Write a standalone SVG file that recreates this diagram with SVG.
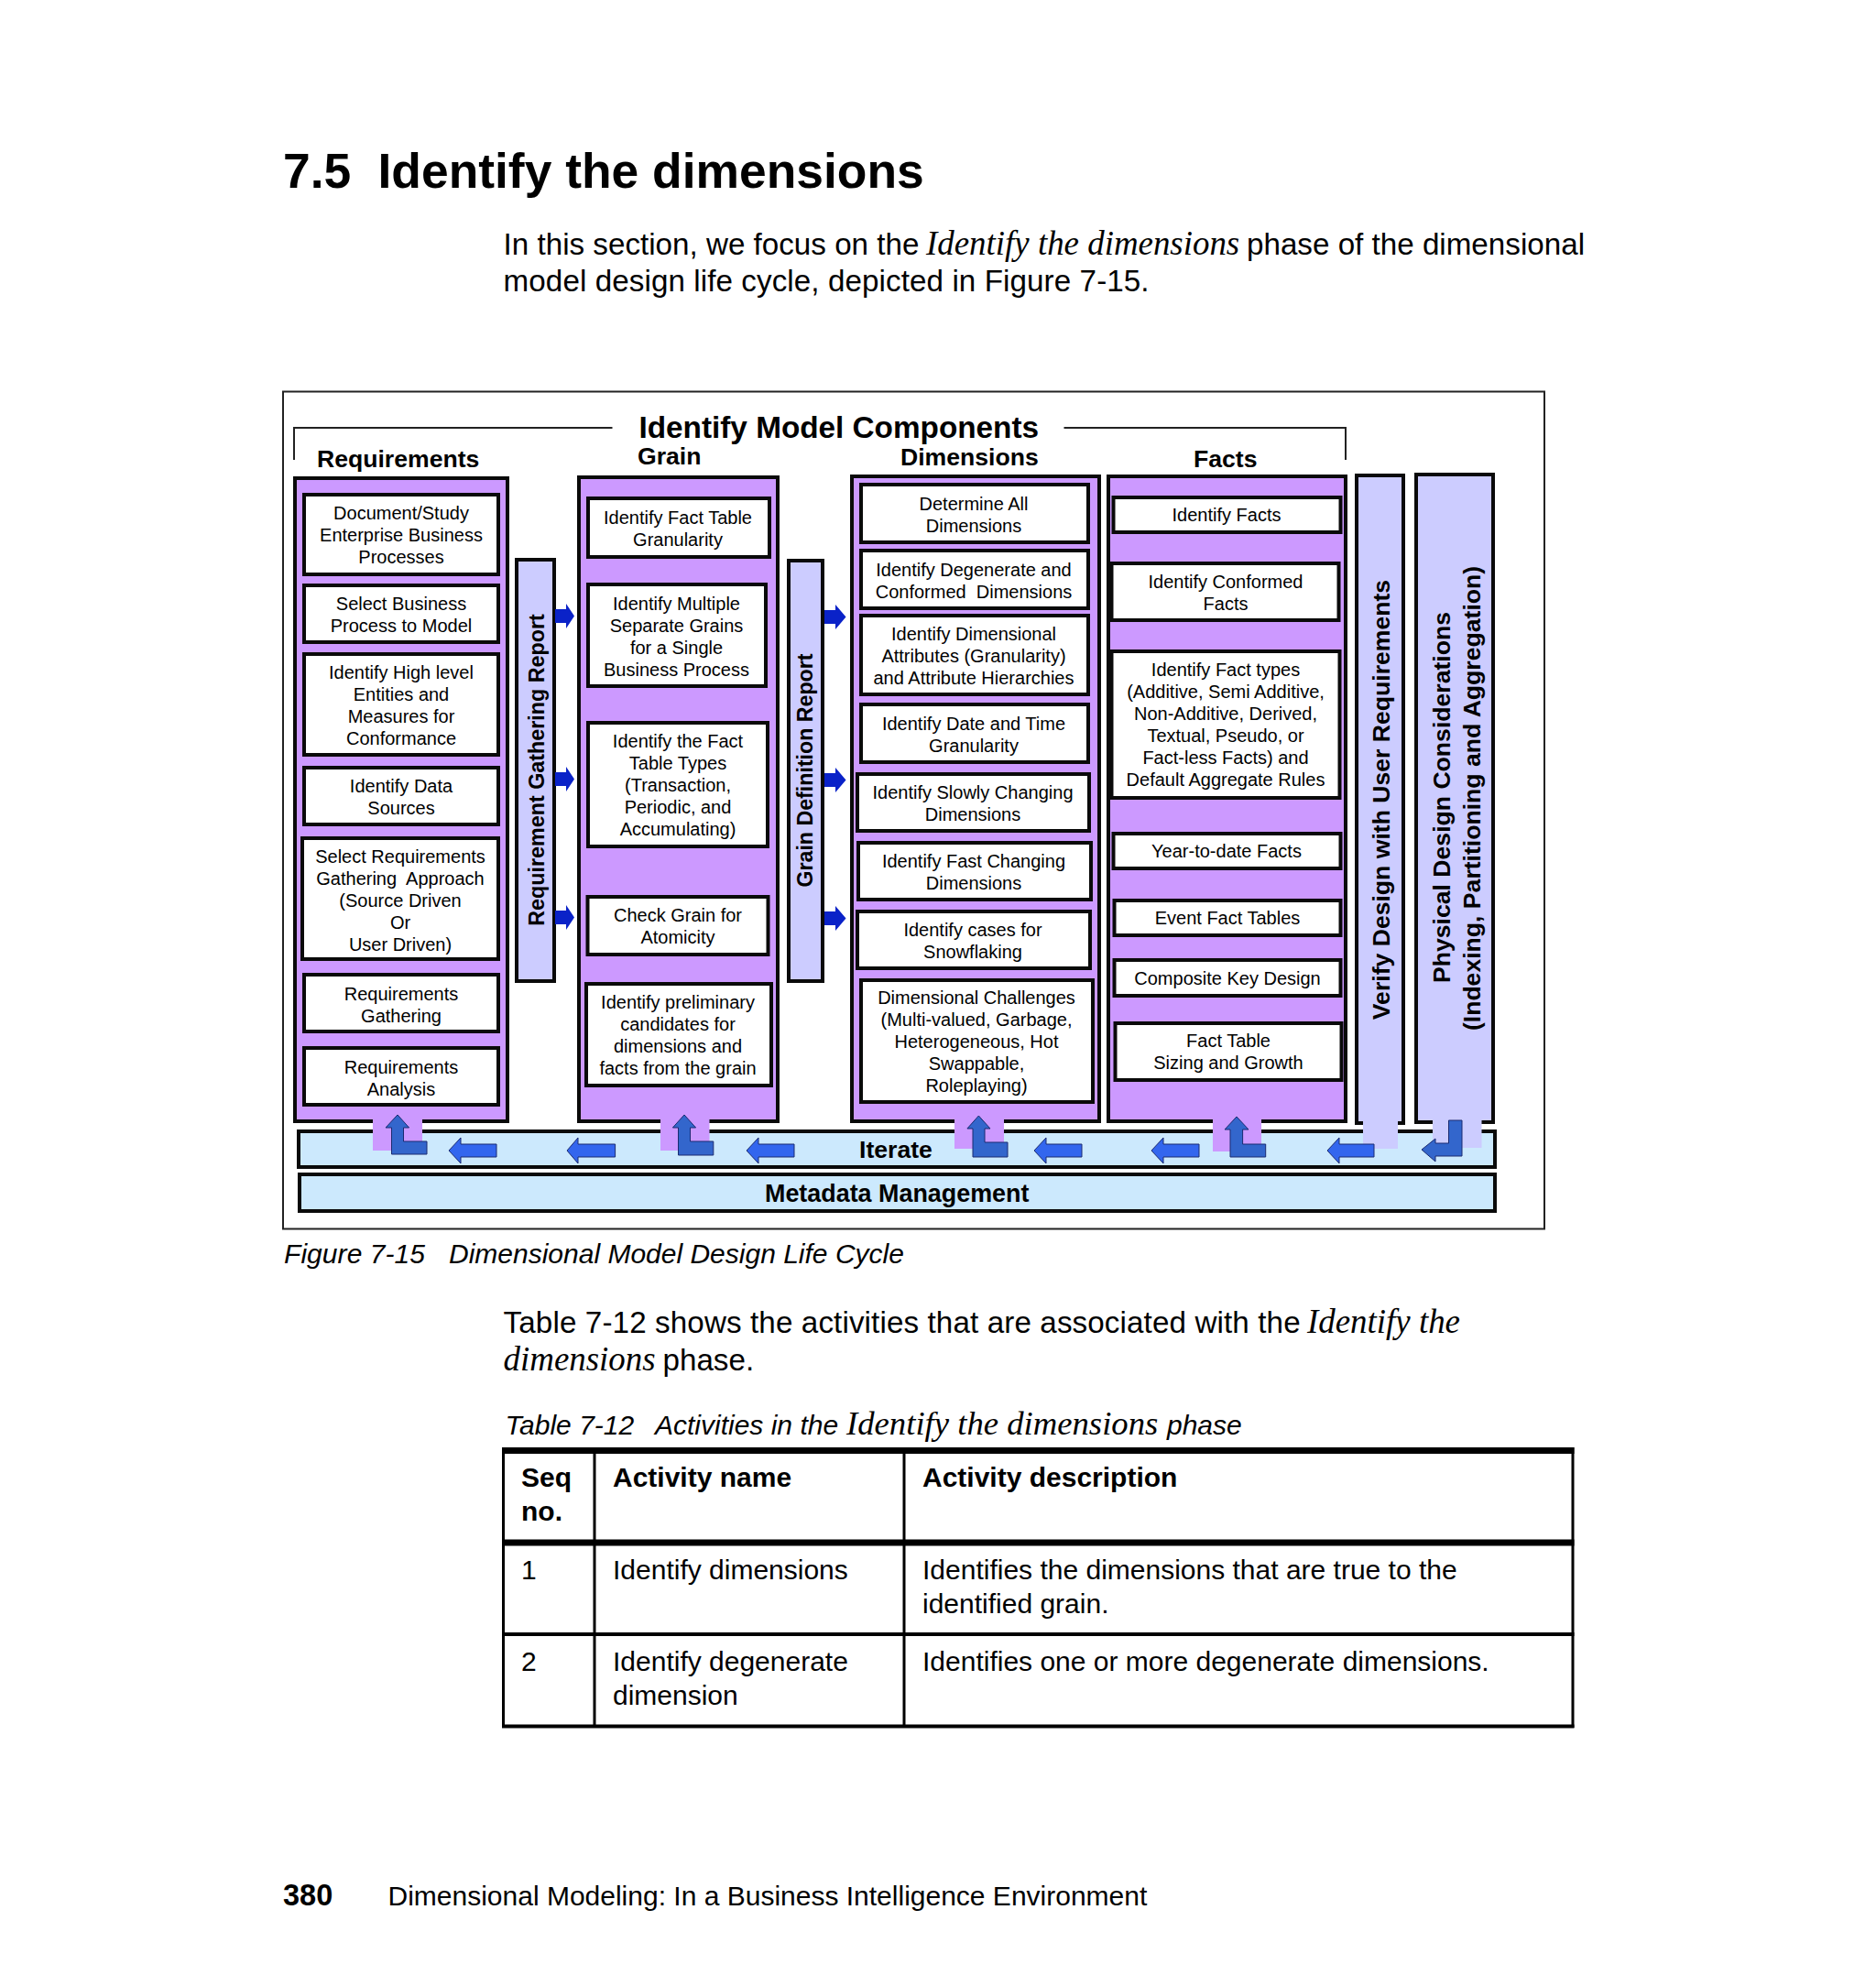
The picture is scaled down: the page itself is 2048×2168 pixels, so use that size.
<svg xmlns="http://www.w3.org/2000/svg" width="2048" height="2168" viewBox="0 0 2048 2168">
<style>
text{font-family:"Liberation Sans",Arial,sans-serif;fill:#000;white-space:pre}
.b{font-weight:bold}
.i{font-style:italic}
.s{font-family:"Liberation Serif","Times New Roman",serif;font-style:italic}
.p{font-size:33.2px}
.f{font-size:30px}
.t{font-size:20px;text-anchor:middle}
.h{font-size:26.6px;font-weight:bold}
.panel{fill:#cc99ff;stroke:#0a0a0a;stroke-width:4}
.box{fill:#fff;stroke:#0a0a0a;stroke-width:4}
.bar{fill:#ccccff;stroke:#0a0a0a;stroke-width:4}
.band{fill:#cce9fd;stroke:#0a0a0a;stroke-width:4}
.strip{fill:#cc99ff}
.strip2{fill:#ccccff}
.ar1{fill:#0a22c8}
.ar2{fill:#3366ee;stroke:#1a2a70;stroke-width:1}
.ar3{fill:#3366cc;stroke:#1a2a70;stroke-width:1}
.line{fill:none;stroke:#222;stroke-width:2}
.tl{stroke:#000;fill:none}
</style>
<rect width="2048" height="2168" fill="#fff"/>

<g id="page-text">
<text class="b" y="204.5" font-size="53.4"><tspan x="309">7.5</tspan><tspan x="412.5">Identify the dimensions</tspan></text>
<text class="p" y="277.5"><tspan x="549.6">In this section, we focus on the</tspan><tspan x="1011" class="s" font-size="36.9">Identify the dimensions</tspan><tspan x="1361">phase of the dimensional</tspan></text>
<text class="p" x="549.6" y="318" textLength="705" lengthAdjust="spacing">model design life cycle, depicted in Figure 7-15.</text>
<text class="i f" x="310" y="1379" textLength="154" lengthAdjust="spacing">Figure 7-15</text>
<text class="i f" x="490" y="1379">Dimensional Model Design Life Cycle</text>
<text class="p" y="1455"><tspan x="549.6" textLength="870" lengthAdjust="spacing">Table 7-12 shows the activities that are associated with the</tspan><tspan x="1427" class="s" font-size="36.9">Identify the</tspan></text>
<text class="p" y="1496"><tspan x="549.6" class="s" font-size="36.9">dimensions</tspan><tspan x="723.5">phase.</tspan></text>
<text class="i f" y="1566"><tspan x="551.5">Table 7-12</tspan><tspan x="715">Activities in the</tspan><tspan x="924" class="s" font-size="36.7">Identify the dimensions</tspan><tspan x="1274">phase</tspan></text>
<text class="b" x="309" y="2080" font-size="32.5">380</text>
<text class="f" x="423.5" y="2080">Dimensional Modeling: In a Business Intelligence Environment</text>
</g>

<g id="frame">
<rect x="309" y="427.5" width="1377" height="914" class="line" fill="#fff"/>
<path class="line" d="M321 502V467H668.5M1161.5 467H1469V502"/>
<text class="b" x="697.5" y="478" font-size="33.3">Identify Model Components</text>
<text class="h" x="346" y="510">Requirements</text>
<text class="h" x="696" y="507">Grain</text>
<text class="h" x="983" y="508">Dimensions</text>
<text class="h" x="1303" y="510">Facts</text>
</g>

<g id="iterate"><rect class="band" x="326" y="1235" width="1306" height="39"/></g>
<g id="metadata"><rect class="band" x="327" y="1282" width="1305" height="40"/>
<text class="b" x="835" y="1312" font-size="26.9">Metadata Management</text></g>

<g id="requirements">
<rect class="panel" x="322" y="522" width="232" height="702"/>
<g id="r1"><rect class="box" x="332" y="540" width="212" height="87"/><text class="t" x="438" y="567">Document/Study<tspan x="438" dy="24">Enterprise Business</tspan><tspan x="438" dy="24">Processes</tspan></text></g>
<g id="r2"><rect class="box" x="332" y="639" width="212" height="62"/><text class="t" x="438" y="666">Select Business<tspan x="438" dy="24">Process to Model</tspan></text></g>
<g id="r3"><rect class="box" x="332" y="714" width="212" height="110"/><text class="t" x="438" y="740.5">Identify High level<tspan x="438" dy="24">Entities and</tspan><tspan x="438" dy="24">Measures for</tspan><tspan x="438" dy="24">Conformance</tspan></text></g>
<g id="r4"><rect class="box" x="332" y="838" width="212" height="62"/><text class="t" x="438" y="865">Identify Data<tspan x="438" dy="24">Sources</tspan></text></g>
<g id="r5"><rect class="box" x="330" y="915" width="214" height="132"/><text class="t" x="437" y="942">Select Requirements<tspan x="437" dy="24">Gathering  Approach</tspan><tspan x="437" dy="24">(Source Driven</tspan><tspan x="437" dy="24">Or</tspan><tspan x="437" dy="24">User Driven)</tspan></text></g>
<g id="r6"><rect class="box" x="332" y="1064" width="212" height="62"/><text class="t" x="438" y="1092">Requirements<tspan x="438" dy="24">Gathering</tspan></text></g>
<g id="r7"><rect class="box" x="332" y="1144" width="212" height="62"/><text class="t" x="438" y="1172">Requirements<tspan x="438" dy="24">Analysis</tspan></text></g>
</g>

<g id="requirement-report"><rect class="bar" x="564" y="611" width="41" height="460"/>
<text class="b" font-size="23.3" text-anchor="middle" transform="translate(594 840.5) rotate(-90)">Requirement Gathering Report</text></g>

<g id="grain">
<rect class="panel" x="632" y="521" width="217" height="703"/>
<g id="g1"><rect class="box" x="642" y="544" width="198" height="64"/><text class="t" x="740" y="572">Identify Fact Table<tspan x="740" dy="24">Granularity</tspan></text></g>
<g id="g2"><rect class="box" x="642" y="638" width="194" height="111"/><text class="t" x="738.5" y="666">Identify Multiple<tspan x="738.5" dy="24">Separate Grains</tspan><tspan x="738.5" dy="24">for a Single</tspan><tspan x="738.5" dy="24">Business Process</tspan></text></g>
<g id="g3"><rect class="box" x="642" y="789" width="196" height="135"/><text class="t" x="740" y="816">Identify the Fact<tspan x="740" dy="24">Table Types</tspan><tspan x="740" dy="24">(Transaction,</tspan><tspan x="740" dy="24">Periodic, and</tspan><tspan x="740" dy="24">Accumulating)</tspan></text></g>
<g id="g4"><rect class="box" x="641.5" y="979" width="197" height="63"/><text class="t" x="740" y="1006">Check Grain for<tspan x="740" dy="24">Atomicity</tspan></text></g>
<g id="g5"><rect class="box" x="640" y="1074" width="202" height="111"/><text class="t" x="740" y="1101">Identify preliminary<tspan x="740" dy="24">candidates for</tspan><tspan x="740" dy="24">dimensions and</tspan><tspan x="740" dy="24">facts from the grain</tspan></text></g>
</g>

<g id="grain-report"><rect class="bar" x="861" y="612" width="37" height="459"/>
<text class="b" font-size="23.2" text-anchor="middle" transform="translate(887 841) rotate(-90)">Grain Definition Report</text></g>

<g id="dimensions">
<rect class="panel" x="930" y="520" width="270" height="704"/>
<g id="d1"><rect class="box" x="940" y="529" width="248" height="63"/><text class="t" x="1063" y="557">Determine All<tspan x="1063" dy="24">Dimensions</tspan></text></g>
<g id="d2"><rect class="box" x="940" y="601" width="248" height="63"/><text class="t" x="1063" y="629">Identify Degenerate and<tspan x="1063" dy="24">Conformed  Dimensions</tspan></text></g>
<g id="d3"><rect class="box" x="940" y="672" width="248" height="86"/><text class="t" x="1063" y="699">Identify Dimensional<tspan x="1063" dy="24">Attributes (Granularity)</tspan><tspan x="1063" dy="24">and Attribute Hierarchies</tspan></text></g>
<g id="d4"><rect class="box" x="940" y="769" width="248" height="63"/><text class="t" x="1063" y="797">Identify Date and Time<tspan x="1063" dy="24">Granularity</tspan></text></g>
<g id="d5"><rect class="box" x="936" y="845" width="253" height="62"/><text class="t" x="1062" y="872">Identify Slowly Changing<tspan x="1062" dy="24">Dimensions</tspan></text></g>
<g id="d6"><rect class="box" x="937" y="920" width="254" height="62"/><text class="t" x="1063" y="947">Identify Fast Changing<tspan x="1063" dy="24">Dimensions</tspan></text></g>
<g id="d7"><rect class="box" x="936" y="995" width="254" height="62"/><text class="t" x="1062" y="1022">Identify cases for<tspan x="1062" dy="24">Snowflaking</tspan></text></g>
<g id="d8"><rect class="box" x="940" y="1070" width="253" height="133"/><text class="t" x="1066" y="1096">Dimensional Challenges<tspan x="1066" dy="24">(Multi-valued, Garbage,</tspan><tspan x="1066" dy="24">Heterogeneous, Hot</tspan><tspan x="1066" dy="24">Swappable,</tspan><tspan x="1066" dy="24">Roleplaying)</tspan></text></g>
</g>

<g id="facts">
<rect class="panel" x="1210" y="520" width="259" height="704"/>
<g id="f1"><rect class="box" x="1215.5" y="543" width="248" height="38"/><text class="t" x="1339" y="569">Identify Facts</text></g>
<g id="f2"><rect class="box" x="1213.5" y="615" width="248" height="62"/><text class="t" x="1338" y="642">Identify Conformed<tspan x="1338" dy="24">Facts</tspan></text></g>
<g id="f3"><rect class="box" x="1213.5" y="711" width="249" height="160"/><text class="t" x="1338" y="738">Identify Fact types<tspan x="1338" dy="24">(Additive, Semi Additive,</tspan><tspan x="1338" dy="24">Non-Additive, Derived,</tspan><tspan x="1338" dy="24">Textual, Pseudo, or</tspan><tspan x="1338" dy="24">Fact-less Facts) and</tspan><tspan x="1338" dy="24">Default Aggregate Rules</tspan></text></g>
<g id="f4"><rect class="box" x="1215.5" y="910" width="248" height="38"/><text class="t" x="1339" y="936">Year-to-date Facts</text></g>
<g id="f5"><rect class="box" x="1216.5" y="983" width="247" height="38"/><text class="t" x="1340" y="1009">Event Fact Tables</text></g>
<g id="f6"><rect class="box" x="1216.5" y="1048" width="247" height="39"/><text class="t" x="1340" y="1075">Composite Key Design</text></g>
<g id="f7"><rect class="box" x="1217.5" y="1117" width="247" height="62"/><text class="t" x="1341" y="1143">Fact Table<tspan x="1341" dy="24">Sizing and Growth</tspan></text></g>
</g>

<g id="verify"><rect class="bar" x="1481" y="519" width="51" height="707"/>
<text class="h" text-anchor="middle" transform="translate(1517 873) rotate(-90)">Verify Design with User Requirements</text></g>

<g id="physical"><rect class="bar" x="1546" y="518" width="84" height="707"/>
<text class="h" text-anchor="middle" transform="translate(1583 870.5) rotate(-90)">Physical Design Considerations</text>
<text class="h" text-anchor="middle" transform="translate(1615.5 871.5) rotate(-90)">(Indexing, Partitioning and Aggregation)</text></g>

<g id="connectors">
<rect class="strip" x="407" y="1222" width="54" height="34"/>
<rect class="strip" x="721" y="1222" width="53.5" height="34"/>
<rect class="strip" x="1042" y="1222" width="54" height="32"/>
<rect class="strip" x="1324" y="1222" width="53" height="35"/>
<rect class="strip2" x="1488" y="1222" width="38" height="32"/>
<rect class="strip2" x="1564" y="1222" width="53.5" height="31"/>
<path class="ar1" d="M606 665H618V659L627 672.5L618 686V680H606Z"/>
<path class="ar1" d="M606 843H618V837L627 850.5L618 864V858H606Z"/>
<path class="ar1" d="M606 994H618V988L627 1001.5L618 1015V1009H606Z"/>
<path class="ar1" d="M900 666H912V660L923.5 673.5L912 687V681H900Z"/>
<path class="ar1" d="M900 844H912V838L923.5 851.5L912 865V859H900Z"/>
<path class="ar1" d="M900 995H912V989L923.5 1002.5L912 1016V1010H900Z"/>
<path class="ar3" d="M434 1217L446.6 1231H440.5V1246H466V1260H427.5V1231H421Z"/>
<path class="ar3" d="M747 1217L759.6 1231H753.5V1246H778.8V1261H740.5V1231H734.4Z"/>
<path class="ar3" d="M1068.4 1218L1081 1232H1075V1247H1100V1263H1062V1232H1055.9Z"/>
<path class="ar3" d="M1350 1219L1363 1233H1356.6V1249H1381.7V1263H1343V1233H1337Z"/>
<path class="ar3" d="M1581.5 1223H1596V1262H1567V1268L1552 1255L1567 1243V1248H1581.5Z"/>
<path class="ar2" d="M490 1256L503 1242V1249H542V1263H503V1270Z"/>
<path class="ar2" d="M619 1256L631 1242V1249H671.6V1263H631V1270Z"/>
<path class="ar2" d="M815 1256L828 1242V1249H867V1263H828V1270Z"/>
<path class="ar2" d="M1129 1256L1142 1242V1249H1181V1263H1142V1270Z"/>
<path class="ar2" d="M1257 1256L1270 1242V1249H1309V1263H1270V1270Z"/>
<path class="ar2" d="M1449 1256L1462 1242V1249H1500V1263H1462V1270Z"/>
</g>
<text class="b" x="938" y="1264" font-size="26.6">Iterate</text>

<g id="table">
<path class="tl" stroke-width="3" d="M549.5 1580V1886M649 1580V1886M987 1580V1886M1717 1580V1886"/>
<path class="tl" stroke-width="7" d="M548 1583.5H1718.5M548 1684H1718.5"/>
<path class="tl" stroke-width="4" d="M548 1784H1718.5"/>
<path class="tl" stroke-width="4" d="M548 1884.5H1718.5"/>
<text class="b f" x="569" y="1623">Seq</text><text class="b f" x="569" y="1660">no.</text>
<text class="b f" x="669" y="1623">Activity name</text>
<text class="b f" x="1007" y="1623">Activity description</text>
<text class="f" x="569" y="1724">1</text>
<text class="f" x="669" y="1724">Identify dimensions</text>
<text class="f" x="1007" y="1724">Identifies the dimensions that are true to the</text>
<text class="f" x="1007" y="1761">identified grain.</text>
<text class="f" x="569" y="1824">2</text>
<text class="f" x="669" y="1824">Identify degenerate</text>
<text class="f" x="669" y="1861">dimension</text>
<text class="f" x="1007" y="1824">Identifies one or more degenerate dimensions.</text>
</g>
</svg>
